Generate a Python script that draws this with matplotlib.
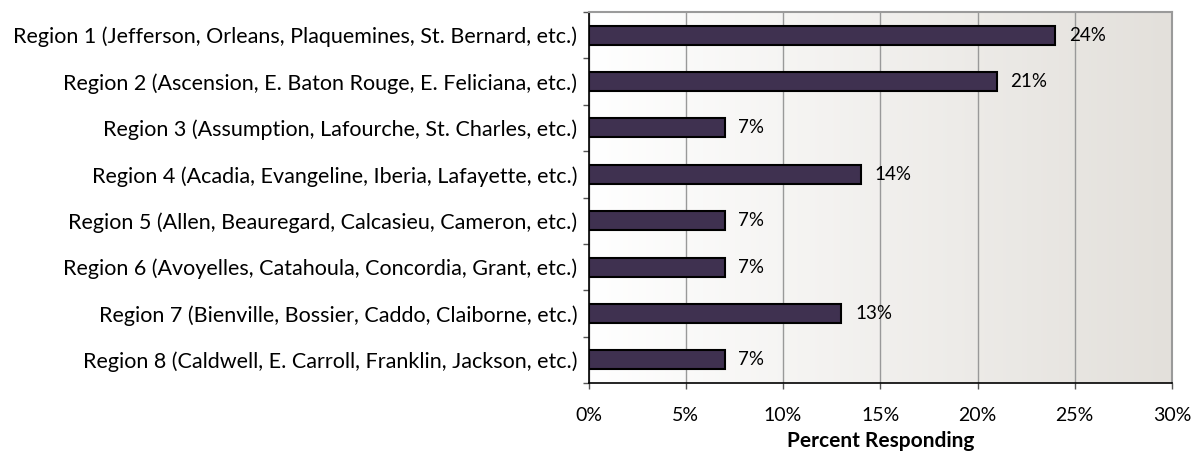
import numpy as np
import matplotlib
matplotlib.use("Agg")
import matplotlib.pyplot as plt
from matplotlib.colors import LinearSegmentedColormap

plt.rcParams['font.family'] = ['Lato', 'DejaVu Sans']

regions = [
    "Region 1 (Jefferson, Orleans, Plaquemines, St. Bernard, etc.)",
    "Region 2 (Ascension, E. Baton Rouge, E. Feliciana, etc.)",
    "Region 3 (Assumption, Lafourche, St. Charles, etc.)",
    "Region 4 (Acadia, Evangeline, Iberia, Lafayette, etc.)",
    "Region 5 (Allen, Beauregard, Calcasieu, Cameron, etc.)",
    "Region 6 (Avoyelles, Catahoula, Concordia, Grant, etc.)",
    "Region 7 (Bienville, Bossier, Caddo, Claiborne, etc.)",
    "Region 8 (Caldwell, E. Carroll, Franklin, Jackson, etc.)",
]
percents = [24, 21, 7, 14, 7, 7, 13, 7]
xticks = [0, 5, 10, 15, 20, 25, 30]

fig = plt.figure(figsize=(11.93, 4.54), dpi=100)
ax = fig.add_axes([588.5 / 1193, 1 - 383 / 454, (1172 - 588.5) / 1193, (383 - 12) / 454])

# gradient background like the Excel chart
cmap = LinearSegmentedColormap.from_list("bg", ["#ffffff", "#e3e0db"])
grad = np.linspace(0, 1, 256).reshape(1, -1)
ax.imshow(grad, cmap=cmap, aspect="auto", extent=[0, 1, 0, 1],
          transform=ax.transAxes, zorder=0)

y = np.arange(len(regions))
ax.barh(y, percents, height=0.41, color="#3f3150", edgecolor="black",
        linewidth=1.5, zorder=3)
for yi, p in zip(y, percents):
    ax.text(p + 0.7, yi, f"{p}%", va="center", ha="left", fontsize=13.5, zorder=4)

ax.set_xlim(0, 30)
ax.set_ylim(len(regions) - 0.5, -0.5)
ax.set_xticks(xticks)
ax.set_xticklabels([f"{t}%" for t in xticks], fontsize=14)
ax.set_yticks(y)
ax.set_yticklabels(regions, fontsize=15.5)
ax.tick_params(axis="y", length=0, pad=8)
ax.set_yticks(np.arange(len(regions) + 1) - 0.5, minor=True)
ax.tick_params(axis="y", which="minor", length=4, width=1, color="#555555")
ax.tick_params(axis="x", length=4, width=1, color="#555555", pad=13)
ax.xaxis.grid(True, color="#999999", linewidth=1, zorder=1)
ax.set_axisbelow(True)

for side in ["top", "right"]:
    ax.spines[side].set_color("#9a9a9a")
    ax.spines[side].set_linewidth(1.5)
for side in ["left", "bottom"]:
    ax.spines[side].set_color("black")
    ax.spines[side].set_linewidth(1.2)

ax.set_xlabel("Percent Responding", fontsize=15, fontweight="bold", labelpad=5)

fig.savefig("out.png", dpi=100)
